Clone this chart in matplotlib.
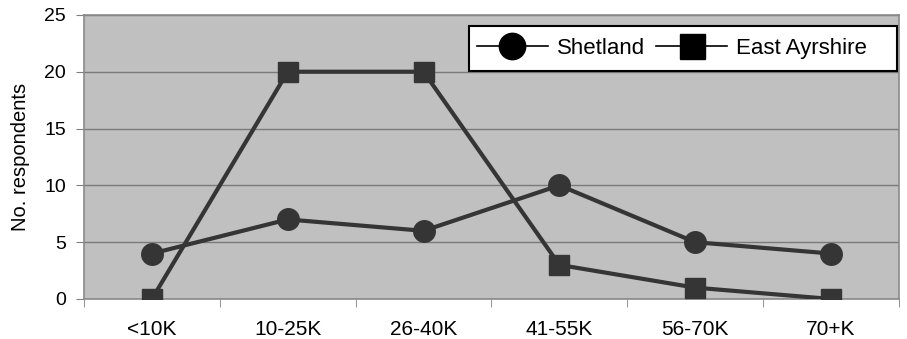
import numpy as np
import matplotlib.pyplot as plt
from matplotlib.patches import Rectangle

plt.rcParams['font.family'] = ['Liberation Sans', 'DejaVu Sans']

# Income bands and respondent counts
bands = ['<10K', '10-25K', '26-40K', '41-55K', '56-70K', '70+K']
shetland = [4, 7, 6, 10, 5, 4]
east_ayrshire = [0, 20, 20, 3, 1, 0]

fig = plt.figure(figsize=(9.07, 3.39), dpi=100)
ax = fig.add_axes([0.0926, 0.118, 0.8985, 0.838])
ax.set_facecolor('#c0c0c0')

x = np.arange(len(bands))
line_col = '#353535'
ax.plot(x, shetland, color=line_col, lw=3, marker='o', ms=15.5, mfc=line_col, mec=line_col, zorder=3)
ax.plot(x, east_ayrshire, color=line_col, lw=3, marker='s', ms=15, mfc=line_col, mec=line_col, zorder=3)

ax.set_xlim(-0.5, len(bands) - 0.5)
ax.set_ylim(0, 25)
ax.set_yticks(range(0, 26, 5))
ax.set_xticks(x)
ax.set_xticklabels(bands)
ax.set_xticks(np.arange(-0.5, len(bands), 1), minor=True)
ax.tick_params(axis='x', which='major', length=0, pad=15, labelsize=15)
ax.tick_params(axis='x', which='minor', length=6, color='#808080')
ax.tick_params(axis='y', length=6, pad=7, color='#808080', labelsize=14)
ax.yaxis.grid(True, color='#7a7a7a', lw=1)
ax.set_axisbelow(True)
for s in ax.spines.values():
    s.set_color('#8a8a8a')
    s.set_linewidth(1.2)
ax.set_ylabel('No. respondents', fontsize=14.5, labelpad=10)

# Legend uses black markers with thin lines; the frame is drawn separately
# so it can leave extra room on the right side
handles = [
    plt.Line2D([], [], color='black', lw=1.2, marker='o', ms=19),
    plt.Line2D([], [], color='black', lw=1.2, marker='s', ms=18),
]
leg = ax.legend(handles, ['Shetland', 'East Ayrshire'], ncol=2, loc='upper right',
                bbox_to_anchor=(0.9607, 0.918), fontsize=16, frameon=False,
                handlelength=3.2, columnspacing=0.5, handletextpad=0.4,
                borderpad=0, borderaxespad=0)
leg.set_zorder(6)

fig.canvas.draw()
bb = leg.get_window_extent()
x0, x1 = bb.x0 - 8, bb.x1 + 30
y0, y1 = bb.y0 - 12, bb.y1 + 12
frame = Rectangle((x0 / fig.bbox.width, y0 / fig.bbox.height),
                  (x1 - x0) / fig.bbox.width, (y1 - y0) / fig.bbox.height,
                  transform=fig.transFigure, facecolor='white', edgecolor='black',
                  lw=1.5, zorder=5, clip_on=False)
ax.add_patch(frame)

fig.savefig('out.png', dpi=100)
